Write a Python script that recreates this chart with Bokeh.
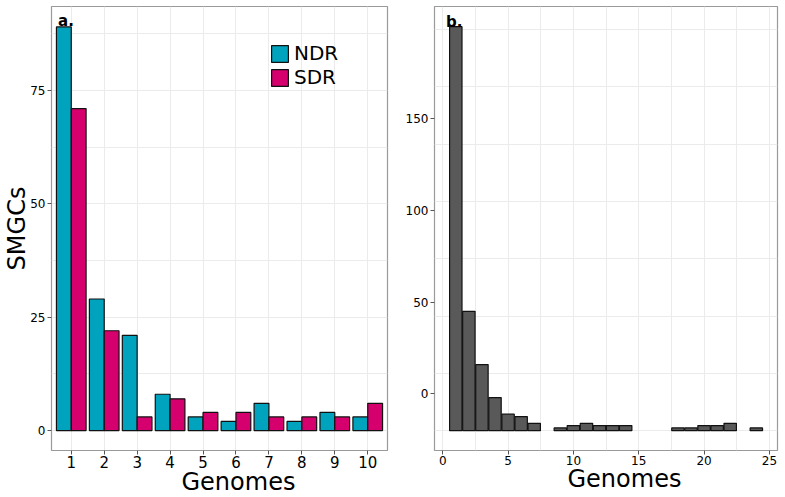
from bokeh.plotting import figure
from bokeh.layouts import row
from bokeh.models import FixedTicker, Title, Label, Legend, LegendItem, ColumnDataSource, Range1d
from bokeh.transform import dodge
from bokeh.embed import file_html
from bokeh.resources import INLINE

# ---- data: panel a ----
genomes_a = [1, 2, 3, 4, 5, 6, 7, 8, 9, 10]
ndr = [89, 29, 21, 8, 3, 2, 6, 2, 4, 3]
sdr = [71, 22, 3, 7, 4, 4, 3, 3, 3, 6]
yticks_a = [0, 25, 50, 75]

# ---- data: panel b (bar tops as read on the printed axis; bars start at base) ----
genomes_b = [1, 2, 3, 4, 5, 6, 7, 9, 10, 11, 12, 13, 14, 18, 19, 20, 21, 22, 24]
tops_b = [200, 45, 16, -2, -11, -12.3, -16, -18.5, -17.2, -16, -17.2, -17.2, -17.2,
          -18.5, -18.5, -17.2, -17.2, -16, -18.5]
base_b = -20
yticks_b = [0, 50, 100, 150]
xticks_b = [0, 5, 10, 15, 20, 25]

FONT = "DejaVu Sans"
NDR_C = "#00A3BD"
SDR_C = "#D5006E"
GRID_C = "#EBEBEB"
FRAME_C = "#9A9A9A"
H = 495


def style(p):
    p.outline_line_color = FRAME_C
    p.outline_line_width = 1.2
    p.background_fill_color = "white"
    for ax in (p.xaxis[0], p.yaxis[0]):
        ax.axis_line_color = None
        ax.major_tick_line_color = "#555555"
        ax.major_tick_out = 4
        ax.major_tick_in = 0
        ax.minor_tick_line_color = None
        ax.major_label_text_font = FONT
        ax.major_label_text_color = "black"
        ax.major_label_standoff = 2
    p.xaxis.major_label_standoff = 1
    p.xgrid.grid_line_color = GRID_C
    p.ygrid.grid_line_color = GRID_C
    p.xgrid.minor_grid_line_color = GRID_C
    p.ygrid.minor_grid_line_color = GRID_C


def xtitle(p, off):
    p.add_layout(Title(text="Genomes", align="left", offset=off, vertical_align="top",
                       text_font=FONT, text_font_size="24px", text_font_style="normal",
                       text_color="black", standoff=-5), "below")


# ---------------- panel a ----------------
p1 = figure(width=402, height=H, x_range=Range1d(0.4, 10.6), y_range=Range1d(-4.4, 93.5),
            output_backend="svg", toolbar_location=None,
            min_border_left=51, min_border_right=15, min_border_top=6, min_border_bottom=0)
style(p1)
src_a = ColumnDataSource(dict(g=genomes_a, ndr=ndr, sdr=sdr))
r_ndr = p1.vbar(x=dodge("g", -0.225), top="ndr", bottom=0, width=0.45, source=src_a,
                fill_color=NDR_C, line_color="#111111", line_width=1.2)
r_sdr = p1.vbar(x=dodge("g", 0.225), top="sdr", bottom=0, width=0.45, source=src_a,
                fill_color=SDR_C, line_color="#111111", line_width=1.2)
p1.xaxis.ticker = FixedTicker(ticks=genomes_a)
p1.xaxis.major_label_text_font_size = "15px"
p1.yaxis.ticker = FixedTicker(ticks=yticks_a,
                              minor_ticks=[t + 12.5 for t in yticks_a])
p1.yaxis.major_label_text_font_size = "12px"
p1.yaxis.axis_label = "SMGCs"
p1.yaxis.axis_label_text_font = FONT
p1.yaxis.axis_label_text_color = "black"
p1.yaxis.axis_label_text_font_size = "24px"
p1.yaxis.axis_label_text_font_style = "normal"
p1.yaxis.axis_label_standoff = -4
xtitle(p1, 130)
p1.add_layout(Label(x=0.6, y=90.4, text="a.", text_font=FONT, text_font_size="15px",
                    text_color="black", text_font_style="bold", text_baseline="alphabetic"))
leg = Legend(items=[LegendItem(label="NDR", renderers=[r_ndr]),
                    LegendItem(label="SDR", renderers=[r_sdr])],
             location=(218, 361), orientation="vertical",
             glyph_width=21, glyph_height=21, label_height=21, spacing=0, padding=0, margin=0,
             label_standoff=4, label_text_font=FONT, label_text_font_size="20px",
             label_text_color="black",
             border_line_color=None, background_fill_alpha=0)
p1.add_layout(leg)

# ---------------- panel b ----------------
p2 = figure(width=383, height=H, x_range=Range1d(-0.63, 25.62), y_range=Range1d(-30.8, 211),
            output_backend="svg", toolbar_location=None,
            min_border_left=27, min_border_right=8, min_border_top=4, min_border_bottom=0)
style(p2)
src_b = ColumnDataSource(dict(g=genomes_b, top=tops_b))
p2.vbar(x="g", top="top", bottom=base_b, width=0.95, source=src_b,
        fill_color="#595959", line_color="#111111", line_width=1.2)
p2.xaxis.ticker = FixedTicker(ticks=xticks_b, minor_ticks=[t + 2.5 for t in xticks_b])
p2.xaxis.major_label_text_font_size = "12px"
p2.yaxis.ticker = FixedTicker(ticks=yticks_b)
p2.yaxis.major_label_text_font_size = "12px"
# panel grid lines do not sit on the printed labels: every 31.2 units from the bar base
p2.ygrid.ticker = FixedTicker(ticks=[base_b + 31.2 * k for k in range(8)])
xtitle(p2, 133)
p2.add_layout(Label(x=0.25, y=202.5, text="b.", text_font=FONT, text_font_size="15px",
                    text_color="black", text_font_style="bold", text_baseline="alphabetic"))

layout = row(p1, p2)
open("out.html", "w").write(file_html(layout, INLINE))
